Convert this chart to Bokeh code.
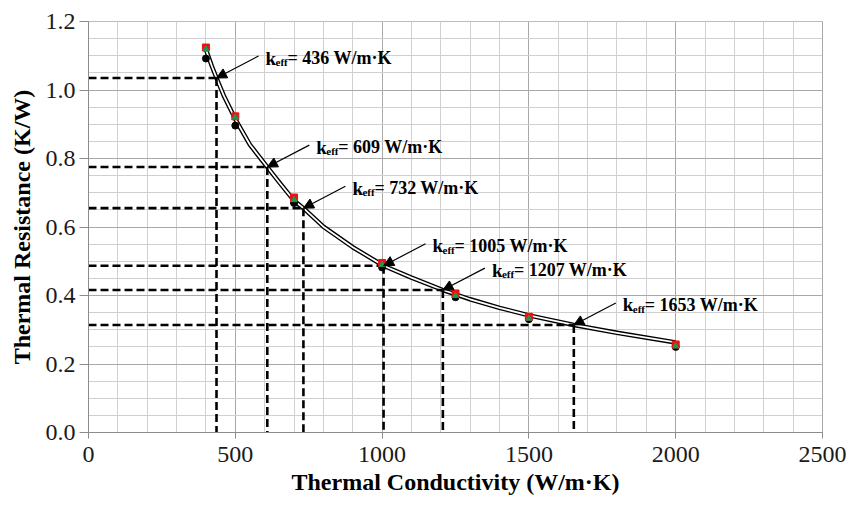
from bokeh.plotting import figure
from bokeh.models import ColumnDataSource, FixedTicker, PrintfTickFormatter, Arrow, NormalHead, Range1d
from bokeh.core.properties import value
from bokeh.embed import file_html
from bokeh.resources import INLINE

# ---- data ----
k_meas = [400, 500, 700, 1000, 1250, 1500, 2000]
r_red = [1.124, 0.923, 0.686, 0.495, 0.406, 0.338, 0.257]
r_green = [1.119, 0.920, 0.679, 0.490, 0.399, 0.333, 0.252]
r_black = [1.092, 0.896, 0.670, 0.482, 0.395, 0.331, 0.250]

curve_k = [400, 420, 436, 460, 500, 550, 609, 650, 700, 732, 800, 900, 1005, 1100, 1207, 1300, 1400, 1500, 1653, 1800, 2000]
curve_r = [1.118, 1.070, 1.035, 0.985, 0.915, 0.840, 0.775, 0.730, 0.677, 0.655, 0.601, 0.541, 0.487, 0.452, 0.416, 0.389, 0.364, 0.342, 0.314, 0.291, 0.263]

keff = [436, 609, 732, 1005, 1207, 1653]
keff_r = [1.035, 0.775, 0.655, 0.487, 0.416, 0.314]
keff_text = ["= 436 W/m·K", "= 609 W/m·K", "= 732 W/m·K",
             "= 1005 W/m·K", "= 1207 W/m·K", "= 1653 W/m·K"]

x_ticks = [0, 500, 1000, 1500, 2000, 2500]
x_minor = list(range(0, 2501, 100))
y_ticks = [0.0, 0.2, 0.4, 0.6, 0.8, 1.0, 1.2]
y_minor = [i * 0.05 for i in range(0, 25)]

x_title = "Thermal Conductivity (W/m·K)"
y_title = "Thermal Resistance (K/W)"

SERIF = "Liberation Serif"

p = figure(width=848, height=506, output_backend="svg", toolbar_location=None,
           x_range=Range1d(0, 2500), y_range=Range1d(0, 1.2),
           min_border_left=88, min_border_right=26, min_border_top=21, min_border_bottom=74)
p.background_fill_color = "white"
p.border_fill_color = "white"
p.outline_line_color = "#a6a6a6"

p.xaxis.ticker = FixedTicker(ticks=x_ticks, minor_ticks=x_minor)
p.yaxis.ticker = FixedTicker(ticks=y_ticks, minor_ticks=y_minor)
p.yaxis.formatter = PrintfTickFormatter(format="%.1f")

for g in (p.xgrid, p.ygrid):
    g.grid_line_color = "#a8a8a8"
    g.grid_line_width = 1
    g.minor_grid_line_color = "#d0d0d0"
    g.minor_grid_line_width = 1

for ax in (p.xaxis, p.yaxis):
    ax.axis_line_color = "#8c8c8c"
    ax.major_tick_line_color = "#8c8c8c"
    ax.minor_tick_line_color = None
    ax.major_tick_in = 0
    ax.major_label_text_font = SERIF
    ax.major_label_text_font_size = "24px"
    ax.major_label_text_color = "#1a1a1a"
    ax.axis_label_text_font = SERIF
    ax.axis_label_text_font_style = "bold"
    ax.axis_label_text_font_size = "24px"
    ax.axis_label_text_color = "black"

p.xaxis.major_tick_out = 6
p.yaxis.major_tick_out = 9
p.xaxis.major_label_standoff = 8
p.yaxis.major_label_standoff = 4
p.xaxis.axis_label = x_title
p.yaxis.axis_label = y_title
p.xaxis.axis_label_standoff = 4
p.yaxis.axis_label_standoff = 8

# curve drawn as a double line
p.line(curve_k, curve_r, line_color="black", line_width=4.5, line_join="round")
p.line(curve_k, curve_r, line_color="white", line_width=1.8, line_join="round")

# dashed guide lines
src = ColumnDataSource(dict(k=keff, r=keff_r, zero=[0] * len(keff), txt=keff_text,
                            ks=[k + 143 for k in keff], rs=[r + 0.064 for r in keff_r],
                            sym=["k"] * len(keff), sub=["eff"] * len(keff)))
p.segment(x0="zero", y0="r", x1="k", y1="r", source=src, line_color="black",
          line_width=2.6, line_dash="8 4")
p.segment(x0="k", y0="r", x1="k", y1="zero", source=src, line_color="black",
          line_width=2.6, line_dash="8 4")

# markers
p.scatter(k_meas, r_black, marker="circle", size=7, fill_color="black", line_color="black")
p.scatter(k_meas, r_red, marker="square", size=7, fill_color="#ee1111", line_color="#ee1111")
p.scatter(k_meas, r_green, marker="triangle", size=6, fill_color="#1a9a50", line_color="#1a9a50")

# arrows
p.add_layout(Arrow(end=NormalHead(size=10, fill_color="black", line_color="black"),
                   x_start="ks", y_start="rs", x_end="k", y_end="r", source=src,
                   line_color="black", line_width=1.2))

# annotation texts: k, subscript eff, remainder
p.text(x="k", y="r", text="sym", source=src, x_offset=49, y_offset=-20,
       text_font=value(SERIF), text_font_style="bold", text_font_size="19px",
       text_baseline="alphabetic", text_color="black")
p.text(x="k", y="r", text="sub", source=src, x_offset=59, y_offset=-16,
       text_font=value(SERIF), text_font_style="bold", text_font_size="11px",
       text_baseline="alphabetic", text_color="black")
p.text(x="k", y="r", text="txt", source=src, x_offset=71, y_offset=-20,
       text_font=value(SERIF), text_font_style="bold", text_font_size="18px",
       text_baseline="alphabetic", text_color="black")

open("out.html", "w").write(file_html(p, INLINE))
